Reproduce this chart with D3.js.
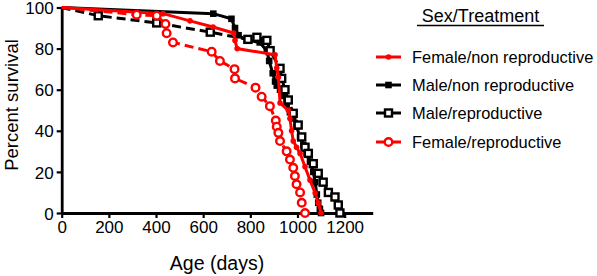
<!DOCTYPE html>
<html>
<head>
<meta charset="utf-8">
<script src="https://cdn.jsdelivr.net/npm/d3@7"></script>
<style>
  body { margin: 0; background: #fff; }
  text { font-family: Arial, "Liberation Sans", sans-serif; }
</style>
</head>
<body>
<div id="chart"></div>
<script>
// survival data: [age in days, percent survival]
let femaleNonRep = [
  [0, 100], [430, 97], [544, 93.5], [642, 90.5], [729, 87.6], [735, 84], [744, 80],
  [905, 77], [912, 70.5], [919, 66], [926, 53.5], [961, 50], [968, 46], [975, 40],
  [982, 35], [996, 32], [1011, 29], [1032, 22.5], [1053, 16], [1075, 9.7],
  [1088, 4.8], [1100, 0]
];
let maleNonRep = [
  [0, 100], [643, 97], [720, 94.5], [735, 90], [750, 86.5], [785, 84], [840, 83],
  [870, 79], [880, 74], [895, 68], [905, 64], [912, 62], [926, 60], [940, 57],
  [954, 53], [968, 49], [982, 46], [996, 42], [1011, 37], [1025, 33], [1039, 29],
  [1053, 25], [1067, 20], [1075, 15], [1082, 9], [1088, 5], [1095, 2], [1100, 0]
];
let maleRep = [
  [0, 100], [155, 96], [403, 92.5], [630, 88], [790, 84.5], [828, 85.5], [870, 84],
  [884, 79], [926, 70.4], [933, 65.5], [947, 60], [961, 55], [982, 48.5],
  [1003, 42.8], [1018, 37], [1032, 32], [1046, 29], [1067, 24], [1088, 19.3],
  [1109, 15], [1131, 10], [1159, 7.8], [1173, 3.9], [1180, 0]
];
let femaleRep = [
  [0, 100], [318, 96.5], [403, 96], [440, 92], [445, 87.5], [472, 83], [636, 78.5],
  [671, 74], [733, 70], [735, 65.5], [822, 61], [848, 56.6], [883, 52], [908, 45],
  [912, 42], [919, 39], [926, 35], [954, 30], [968, 26], [982, 22], [989, 18],
  [996, 14], [1011, 10], [1018, 5], [1032, 0]
];

let xTicks = [0, 200, 400, 600, 800, 1000, 1200];
let yTicks = [0, 20, 40, 60, 80, 100];

let legendTitle = "Sex/Treatment";
let series = [
  { name: "Female/non reproductive", data: femaleNonRep, color: "#ff0000", dash: null, marker: "dot" },
  { name: "Male/non reproductive", data: maleNonRep, color: "#000", dash: null, marker: "square" },
  { name: "Male/reproductive", data: maleRep, color: "#000", dash: "9,5", marker: "openSquare" },
  { name: "Female/reproductive", data: femaleRep, color: "#ff0000", dash: "9,5", marker: "openCircle" }
];
// drawing order: black first, red on top
let drawOrder = [1, 2, 0, 3];

let margin = { top: 7.5, left: 61.7 },
  width = 311,
  height = 205.5;

let svg = d3
  .select("#chart")
  .append("svg")
  .attr("width", 597)
  .attr("height", 276);

let canvas = svg
  .append("g")
  .attr("transform", "translate(" + margin.left + "," + margin.top + ")");

let xScale = d3.scaleLinear().domain([0, 1319]).range([0, width]);
let yScale = d3.scaleLinear().domain([0, 100]).range([height, 0]);

let xAxis = d3.axisBottom(xScale).tickValues(xTicks).tickFormat(d3.format("d"))
  .tickSize(5).tickSizeOuter(0).tickPadding(3);
let yAxis = d3.axisLeft(yScale).tickValues(yTicks).tickFormat(d3.format("d"))
  .tickSize(5).tickSizeOuter(0).tickPadding(3);

let xAxisEl = canvas
  .append("g")
  .attr("transform", "translate(0," + height + ")")
  .call(xAxis);
let yAxisEl = canvas.append("g").call(yAxis);

[xAxisEl, yAxisEl].forEach((el) => {
  el.select(".domain").attr("stroke", "#000").attr("stroke-width", 2.8);
  el.selectAll(".tick line").attr("stroke", "#000").attr("stroke-width", 2.2);
  el.selectAll(".tick text")
    .attr("fill", "#000")
    .style("font-size", "17px")
    .style("font-family", "Arial, 'Liberation Sans', sans-serif");
});
yAxisEl.selectAll(".tick text").attr("dy", "0.36em");

svg
  .append("text")
  .attr("transform", "translate(18,105) rotate(-90)")
  .attr("text-anchor", "middle")
  .style("font-size", "18.5px")
  .text("Percent survival");

svg
  .append("text")
  .attr("x", 217)
  .attr("y", 270)
  .attr("text-anchor", "middle")
  .style("font-size", "19.5px")
  .text("Age (days)");

let line = d3
  .line()
  .x((d) => xScale(d[0]))
  .y((d) => yScale(d[1]));

function drawMarker(g, type, color, x, y) {
  if (type === "dot") {
    g.append("circle").attr("cx", x).attr("cy", y).attr("r", 2.8).attr("fill", color);
  } else if (type === "square") {
    g.append("rect").attr("x", x - 3.3).attr("y", y - 3.3).attr("width", 6.6).attr("height", 6.6).attr("fill", color);
  } else if (type === "openSquare") {
    g.append("rect")
      .attr("x", x - 3.5).attr("y", y - 3.5).attr("width", 7).attr("height", 7)
      .attr("fill", "#fff").attr("stroke", color).attr("stroke-width", 2.4);
  } else {
    g.append("circle")
      .attr("cx", x).attr("cy", y).attr("r", 3.8)
      .attr("fill", "#fff").attr("stroke", color).attr("stroke-width", 2.4);
  }
}

drawOrder.forEach((i) => {
  let s = series[i];
  let g = canvas.append("g");
  g.append("path")
    .datum(s.data)
    .attr("d", line)
    .attr("fill", "none")
    .attr("stroke", s.color)
    .attr("stroke-width", 3)
    .attr("stroke-dasharray", s.dash);
  s.data.slice(1).forEach((d) => drawMarker(g, s.marker, s.color, xScale(d[0]), yScale(d[1])));
});

// legend
let legend = svg.append("g");
legend
  .append("text")
  .attr("x", 480.5)
  .attr("y", 22)
  .attr("text-anchor", "middle")
  .style("font-size", "18px")
  .text(legendTitle);
legend
  .append("line")
  .attr("x1", 417).attr("x2", 544)
  .attr("y1", 25.5).attr("y2", 25.5)
  .attr("stroke", "#000").attr("stroke-width", 1.3);

let legendY = [57, 85, 113, 142];
series.forEach((s, i) => {
  let y = legendY[i];
  legend.append("line")
    .attr("x1", 376).attr("x2", 401)
    .attr("y1", y).attr("y2", y)
    .attr("stroke", s.color).attr("stroke-width", 3);
  drawMarker(legend, s.marker, s.color, 388.5, y);
  legend.append("text")
    .attr("x", 412)
    .attr("y", y)
    .attr("dy", "0.36em")
    .style("font-size", "16.4px")
    .text(s.name);
});
</script>
</body>
</html>
